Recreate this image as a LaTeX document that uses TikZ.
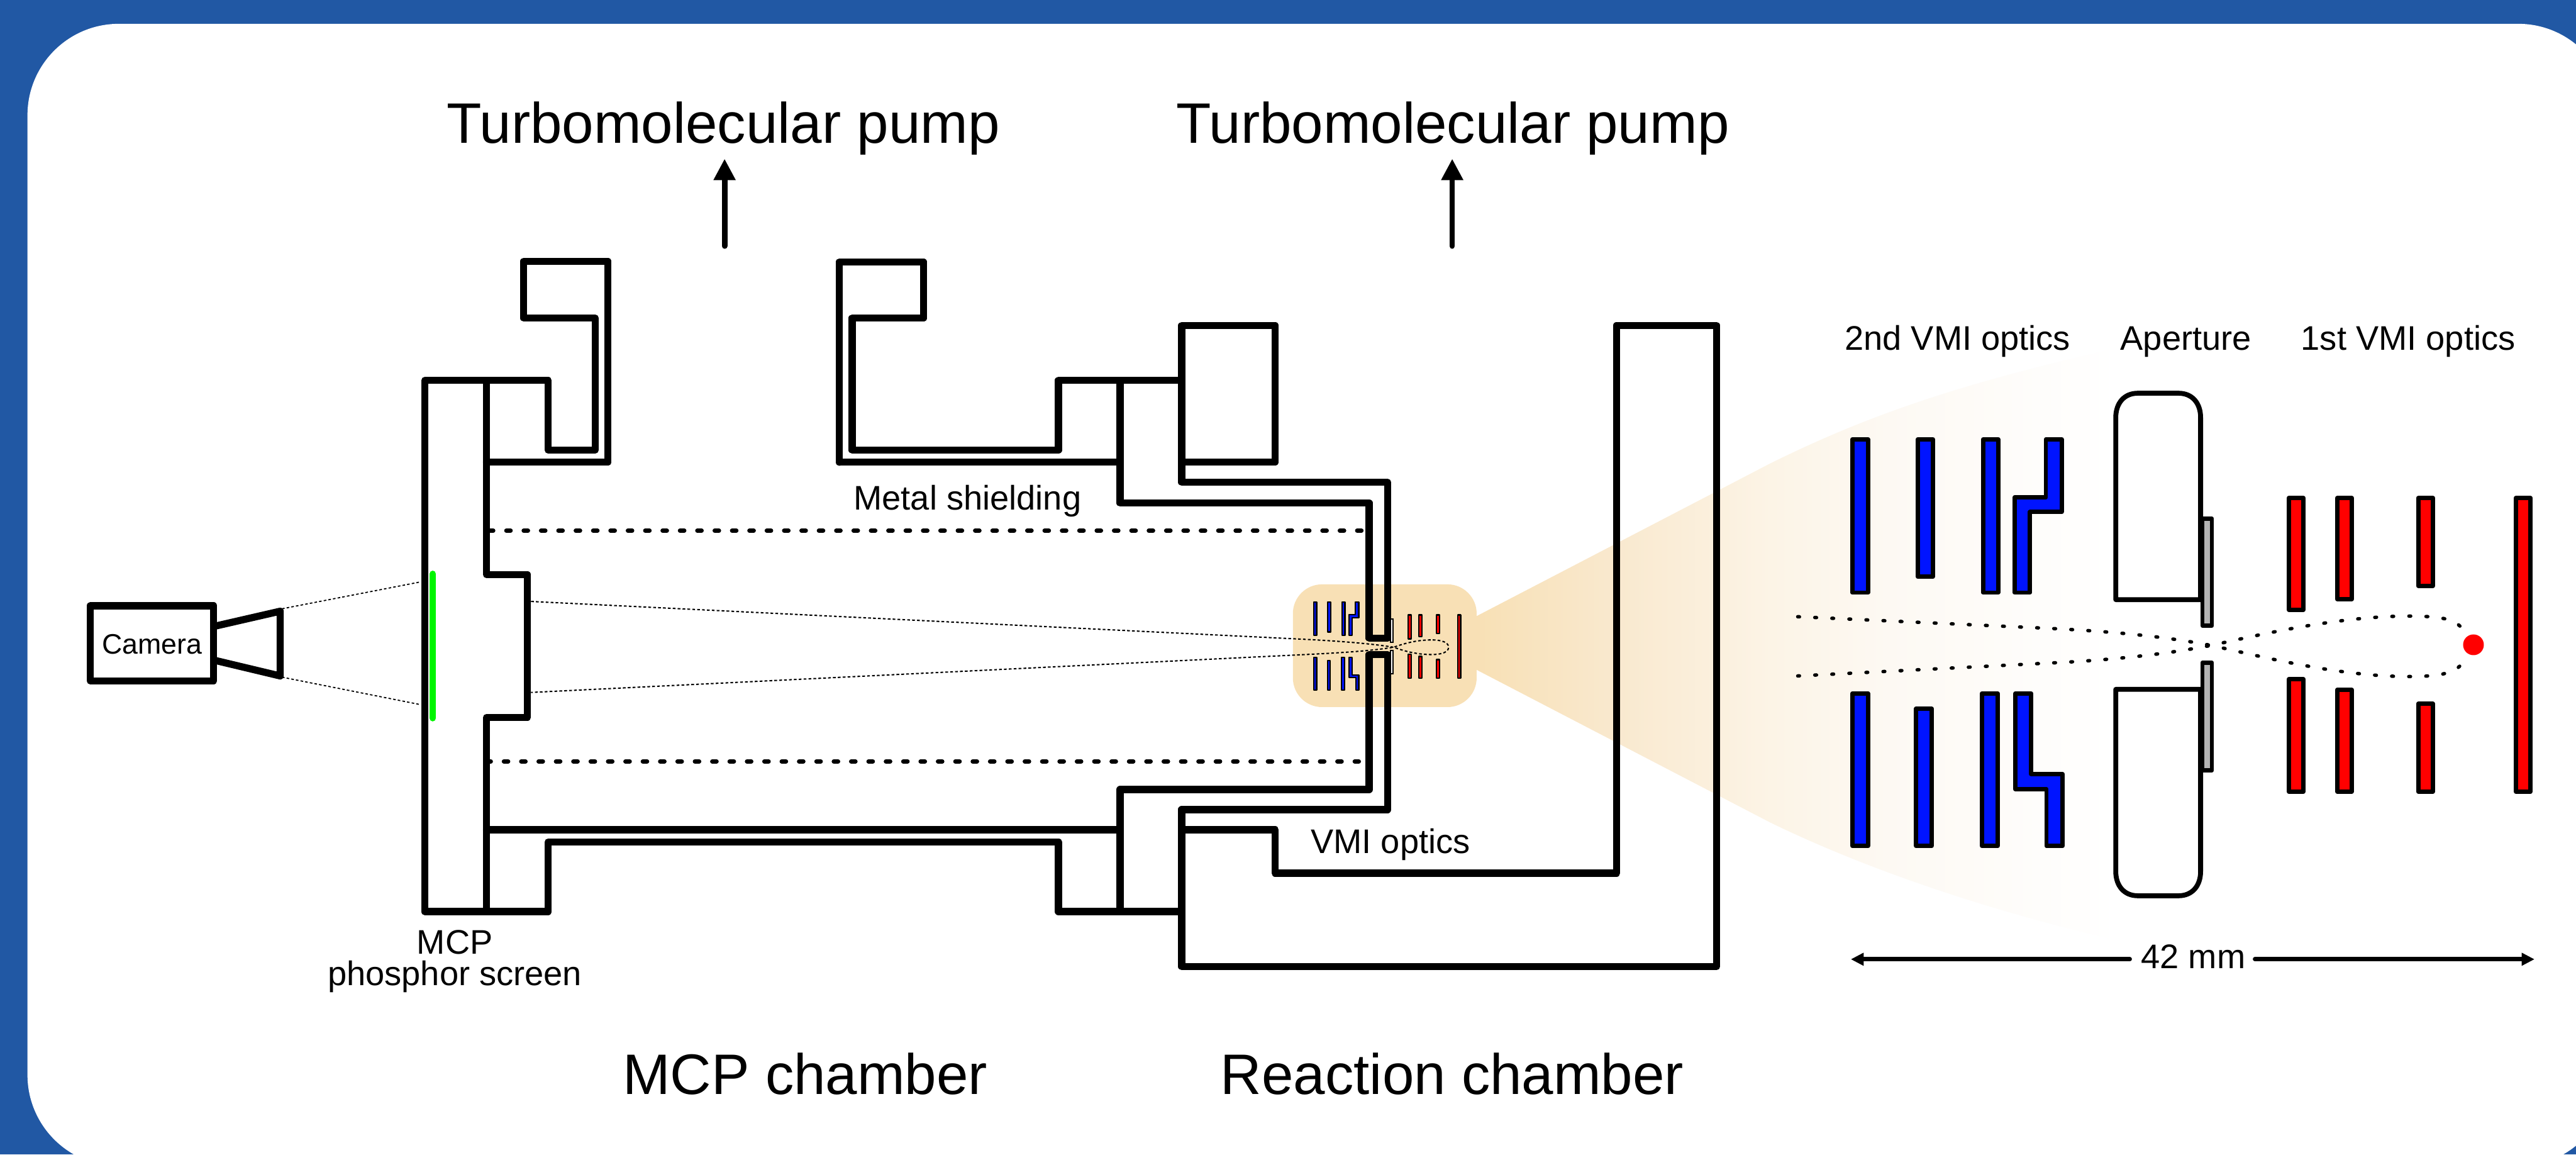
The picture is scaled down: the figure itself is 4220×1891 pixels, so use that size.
\documentclass[tikz,border=0pt]{standalone}
\usepackage{fontspec}
\setmainfont{Liberation Sans}
\usetikzlibrary{arrows.meta}
\definecolor{bgblue}{HTML}{2158A4}
\definecolor{peach}{HTML}{F8E0B5}
\definecolor{fadeA}{HTML}{F9E9CF}
\definecolor{fadeB}{HTML}{FCF4E6}
\definecolor{fadeC}{HTML}{FDF9F3}
\definecolor{optblue}{HTML}{0014FF}
\definecolor{optred}{HTML}{FF0000}
\definecolor{mcpgreen}{HTML}{00F500}
\definecolor{plategrey}{HTML}{B3B3B3}
\pgfdeclarehorizontalshading{conefade}{100bp}{color(0bp)=(peach); color(25bp)=(peach); color(36bp)=(fadeA); color(48bp)=(fadeB); color(57bp)=(fadeC); color(75bp)=(white); color(100bp)=(white)}
\newcommand{\fpx}[1]{\fontsize{#1}{#1}\selectfont}
\tikzset{
  wall/.style={draw=black,line width=16.6pt,line join=round,line cap=round},
  shield/.style={draw=black,line width=10pt,line cap=round,dash pattern=on 10pt off 30.47pt},
  ray/.style={draw=black,line width=2.6pt,dash pattern=on 6pt off 5pt},
  traj/.style={draw=black,line width=8pt,line cap=round,dash pattern=on 4pt off 35.83pt},
  minitraj/.style={draw=black,line width=3pt,dash pattern=on 6.4pt off 5pt},
  bluebar/.style={draw=black,fill=optblue,line width=10pt,line join=round},
  redbar/.style={draw=black,fill=optred,line width=10pt,line join=round},
  miniblue/.style={draw=black,fill=optblue,line width=3.2pt,line join=round},
  minired/.style={draw=black,fill=optred,line width=3.2pt,line join=round},
  block/.style={draw=black,fill=white,line width=11.4pt,line join=round},
  plate/.style={draw=black,fill=plategrey,line width=10pt,line join=round},
  miniplate/.style={draw=black,fill=white,line width=2.8pt},
  pumparrow/.style={draw=black,line width=12.8pt,line cap=round,-{Triangle[length=49.8pt,width=48.4pt]}},
  dimarrow/.style={draw=black,line width=10pt,line cap=round},
  bigtext/.style={anchor=base,inner sep=0pt,font=\fpx{133}},
  smalltext/.style={anchor=base,inner sep=0pt,font=\fpx{79.5}},
}
\begin{document}
\begin{tikzpicture}[x=0.05cm,y=-0.05cm]
\useasboundingbox (0,0) rectangle (4220,1891);
\fill[bgblue] (0,0) rectangle (4220,1891);
\begin{scope}
\clip (0,0) rectangle (4220,1891);
\fill[white,rounded corners=213pt] (45,39) rectangle (4275,1910);
\end{scope}

% fading cone and window
\shade[shading=conefade] (2419,1009) -- (2900,759) .. controls (3050,685) and (3200,630) .. (3470,570)
  -- (3470,1540) .. controls (3250,1490) and (3050,1420) .. (2900,1347) -- (2419,1097) -- cycle;
\fill[peach,rounded corners=68pt] (2118,957) rectangle (2419,1158);

% rays
\draw[ray] (462,997) -- (689,953);
\draw[ray] (462,1109) -- (689,1154);
\draw[minitraj] (870,985) -- (2117,1046) .. controls (2180,1049) and (2240,1053) .. (2283,1060)
  .. controls (2305,1068) and (2325,1072) .. (2345,1072) .. controls (2362,1072) and (2373,1068) .. (2373,1060)
  .. controls (2373,1052) and (2362,1048) .. (2345,1048) .. controls (2325,1048) and (2305,1052) .. (2283,1060)
  .. controls (2240,1067) and (2180,1070) .. (2117,1073) -- (870,1134);

% shielding
\draw[shield] (801,869) -- (2236,869);
\draw[shield] (797,1247) -- (2226,1247);

% camera
\draw[wall] (148,992) rectangle (350,1115);
\draw[wall] (350,1026) -- (459,1001) -- (459,1107) -- (350,1081);
\node[inner sep=0pt,anchor=base,font=\fpx{65.5}] (camera) at (249,1071) {Camera};

% MCP flange
\draw[wall] (797,623) -- (696,623) -- (696,1493) -- (797,1493);
\draw[wall] (797,623) -- (898,623) -- (898,737) -- (975,737) -- (975,521) -- (858,521) -- (858,428) -- (996,428) -- (996,757) -- (797,757);
\draw[wall] (797,623) -- (797,941) -- (864,941) -- (864,1175) -- (797,1175) -- (797,1493);
\draw[wall] (797,1493) -- (898,1493) -- (898,1379) -- (1734,1379) -- (1734,1493) -- (1936,1493);
\draw[wall] (797,1359) -- (1835,1359);
\draw[line width=15.6pt,draw=mcpgreen,line cap=round] (709,940) -- (709,1176);

% upper pump port
\draw[wall] (1375,757) -- (1375,429) -- (1513,429) -- (1513,521) -- (1396,521) -- (1396,737) -- (1734,737) -- (1734,623) -- (1936,623);
\draw[wall] (1375,757) -- (1835,757);

% inner tube
\draw[wall] (1835,623) -- (1835,824) -- (2243,824) -- (2243,1045) -- (2273,1045) -- (2273,790) -- (1936,790) -- (1936,623);
\draw[wall] (1936,533) rectangle (2089,757);
\draw[wall] (1835,1493) -- (1835,1293) -- (2243,1293) -- (2243,1072) -- (2273,1072) -- (2273,1326) -- (1936,1326) -- (1936,1493);

% reaction chamber
\draw[wall] (1936,1359) -- (2089,1359) -- (2089,1430) -- (2648,1430) -- (2648,533) -- (2812,533) -- (2812,1583) -- (1936,1583) -- (1936,1326);

% mini optics
\begin{scope}[shift={(2050,900)},xscale=1/3,yscale=1/3]
\draw[miniblue] (305.5,258.5) rectangle (320.5,421.5);
\draw[miniblue] (374.5,258.5) rectangle (389.5,404.5);
\draw[miniblue] (444.5,258.5) rectangle (459.5,421.5);
\draw[miniblue] (511.5,258.5) -- (527.5,258.5) -- (527.5,334.5) -- (494.5,334.5) -- (494.5,421.5) -- (478.5,421.5) -- (478.5,319.5) -- (511.5,319.5) -- cycle;
\draw[miniblue] (305.5,529.5) rectangle (320.5,691.5);
\draw[miniblue] (373.5,546.5) rectangle (387.5,691.5);
\draw[miniblue] (443.5,529.5) rectangle (458.5,691.5);
\draw[miniblue] (479.5,529.5) -- (494.5,529.5) -- (494.5,615.5) -- (527.5,615.5) -- (527.5,691.5) -- (512.5,691.5) -- (512.5,629.5) -- (479.5,629.5) -- cycle;
\draw[minired] (771.5,321.5) rectangle (786.5,438.5);
\draw[minired] (823.5,321.5) rectangle (837.5,428.5);
\draw[minired] (909.5,321.5) rectangle (924.5,413.5);
\draw[minired] (1014.5,321.5) rectangle (1028.5,632.5);
\draw[minired] (771.5,514.5) rectangle (786.5,632.5);
\draw[minired] (823.5,525.5) rectangle (837.5,632.5);
\draw[minired] (909.5,540.5) rectangle (924.5,632.5);
\draw[miniplate] (685,342) rectangle (696,456);
\draw[miniplate] (685,497) rectangle (696,610);
\end{scope}

% large optics
\draw[bluebar] (3034.5,719.5) rectangle (3060,970.5);
\draw[bluebar] (3141.5,719.5) rectangle (3166.5,944.5);
\draw[bluebar] (3248.5,719.5) rectangle (3273.5,970.5);
\draw[bluebar] (3351.5,719.5) -- (3377.5,719.5) -- (3377.5,838.5) -- (3325.5,838.5) -- (3325.5,970.5) -- (3300.5,970.5) -- (3300.5,814.5) -- (3351.5,814.5) -- cycle;
\draw[bluebar] (3034.5,1135.5) rectangle (3060,1385.5);
\draw[bluebar] (3139,1160.5) rectangle (3164.5,1385.5);
\draw[bluebar] (3246.5,1135.5) rectangle (3272.5,1385.5);
\draw[bluebar] (3301.5,1135.5) -- (3327.5,1135.5) -- (3327.5,1267.5) -- (3379,1267.5) -- (3379,1385.5) -- (3352.5,1385.5) -- (3352.5,1292.5) -- (3301.5,1292.5) -- cycle;

\draw[block] (3466,982) -- (3466,684) .. controls (3466,660) and (3480,644) .. (3502,644) -- (3569,644) .. controls (3591,644) and (3605,660) .. (3605,684) -- (3605,982) -- cycle;
\draw[block] (3466,1129) -- (3466,1427) .. controls (3466,1451) and (3480,1467) .. (3502,1467) -- (3569,1467) .. controls (3591,1467) and (3605,1451) .. (3605,1427) -- (3605,1129) -- cycle;
\draw[plate] (3608,849.5) rectangle (3623.5,1024.5);
\draw[plate] (3608,1085.5) rectangle (3623.5,1261.5);

\draw[redbar] (3749.5,815.5) rectangle (3773.5,998.5);
\draw[redbar] (3829,815.5) rectangle (3852.5,981.5);
\draw[redbar] (3961.5,815.5) rectangle (3985.5,959.5);
\draw[redbar] (4121.5,815.5) rectangle (4145.5,1296.5);
\draw[redbar] (3749.5,1112.5) rectangle (3773.5,1296.5);
\draw[redbar] (3829,1129.5) rectangle (3852.5,1296.5);
\draw[redbar] (3961.5,1152.5) rectangle (3985.5,1296.5);
\fill[optred] (4052,1056) circle (17);

% trajectories
\draw[traj] (2945,1010) -- (3355,1029) .. controls (3480,1035) and (3560,1045) .. (3622,1057)
  .. controls (3700,1074) and (3830,1108) .. (3945,1108) .. controls (3990,1108) and (4020,1104) .. (4032,1088);
\draw[traj] (2945,1107) -- (3355,1086) .. controls (3480,1080) and (3560,1069) .. (3622,1057)
  .. controls (3700,1040) and (3830,1009) .. (3945,1009) .. controls (3990,1009) and (4020,1012) .. (4032,1028);

% arrows and labels
\coordinate (pumpAfoot) at (1187,403);
\coordinate (pumpAtip) at (1187,260);
\coordinate (pumpBfoot) at (2379,403);
\coordinate (pumpBtip) at (2379,260);
\draw[pumparrow] (pumpAfoot) -- (pumpAtip);
\draw[pumparrow] (pumpBfoot) -- (pumpBtip);
\node[bigtext] (pumpA) at (1185,234) {Turbomolecular pump};
\node[bigtext] (pumpB) at (2380,234) {Turbomolecular pump};
\node[bigtext] (mcpchamber) at (1319,1792) {MCP chamber};
\node[bigtext] (reactchamber) at (2379,1792) {Reaction chamber};
\node[smalltext] (mcplabel) at (745,1562) {MCP};
\node[smalltext] (phosphor) at (745,1614) {phosphor screen};
\node[smalltext] (shieldlabel) at (1585,835) {Metal shielding};
\node[smalltext] (vmilabel) at (2278,1398) {VMI optics};
\node[smalltext] (secondvmi) at (3207,573) {2nd VMI optics};
\node[smalltext] (aperture) at (3581,573) {Aperture};
\node[smalltext] (firstvmi) at (3945,573) {1st VMI optics};
\node[smalltext] (dimlabel) at (3593,1586) {42 mm};
\coordinate (dimLtip) at (3032,1571);
\coordinate (dimLend) at (3489,1571);
\coordinate (dimRend) at (3694,1571);
\coordinate (dimRtip) at (4152,1571);
\draw[dimarrow,-{Triangle[length=29.9pt,width=28.5pt]}] (dimLend) -- (dimLtip);
\draw[dimarrow,-{Triangle[length=29.9pt,width=28.5pt]}] (dimRend) -- (dimRtip);
\end{tikzpicture}
\end{document}
